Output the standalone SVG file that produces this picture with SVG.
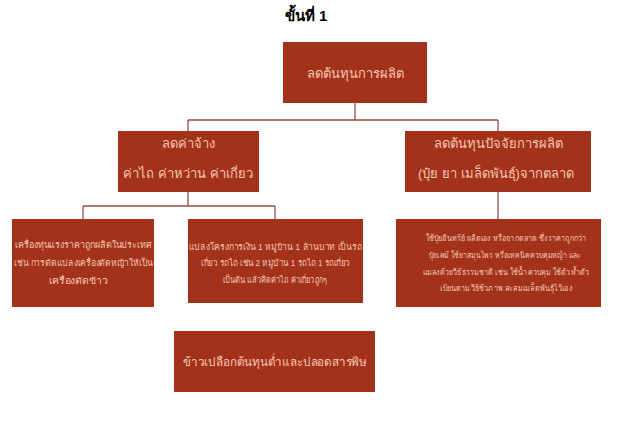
<svg xmlns="http://www.w3.org/2000/svg" width="620" height="428" viewBox="0 0 620 428">
<style>
.box{fill:#a3321a;}
.t{font-family:"Liberation Sans","Noto Sans",sans-serif;fill:#f5c6b2;text-anchor:middle;dominant-baseline:central;}
.l{font-size:13px;}
.s{font-size:9px;}
.xs{font-size:8.5px;}
.conn{fill:none;stroke:#8e4f46;stroke-width:1.3;}
</style>
<rect width="620" height="428" fill="#ffffff"/>
<text x="306" y="15" font-family="Liberation Sans,sans-serif" font-size="15" font-weight="bold" fill="#000" text-anchor="middle" dominant-baseline="central">ขั้นที่ 1</text>
<g id="connectors">
<path class="conn" d="M355 103V120M188 120H498M188 120V131M498 120V131"/>
<path class="conn" d="M188 192V206M83 206H275M83 206V219M275 206V219"/>
<path class="conn" d="M498 192V219"/>
</g>
<g id="n0">
<rect class="box" x="283" y="42" width="144" height="61"/>
<text class="t l" x="355" y="73">ลดต้นทุนการผลิต</text>
</g>
<g id="n1">
<rect class="box" x="118" y="131" width="141" height="61"/>
<text class="t l" x="188" y="143">ลดค่าจ้าง</text>
<text class="t l" x="188" y="173">ค่าไถ ค่าหว่าน ค่าเกี่ยว</text>
</g>
<g id="n2">
<rect class="box" x="405" y="131" width="186" height="61"/>
<text class="t l" x="498" y="143">ลดต้นทุนปัจจัยการผลิต</text>
<text class="t l" x="496" y="173">(ปุ๋ย ยา เมล็ดพันธุ์)จากตลาด</text>
</g>
<g id="n3">
<rect class="box" x="12" y="219" width="142" height="88"/>
<text class="t s" x="83.5" y="245" textLength="137" lengthAdjust="spacingAndGlyphs">เครื่องทุ่นแรงราคาถูกผลิตในประเทศ</text>
<text class="t s" x="83.5" y="263" textLength="139" lengthAdjust="spacingAndGlyphs">เช่น การดัดแปลงเครื่องตัดหญ้าให้เป็น</text>
<text class="t s" x="78" y="281" textLength="59" lengthAdjust="spacingAndGlyphs">เครื่องตัดข้าว</text>
</g>
<g id="n4">
<rect class="box" x="188" y="219" width="175" height="84"/>
<text class="t s" x="275" y="247" textLength="173" lengthAdjust="spacingAndGlyphs">แปลงโครงการเงิน 1 หมู่บ้าน 1 ล้านบาท เป็นรถ</text>
<text class="t s" x="275.5" y="263" textLength="149" lengthAdjust="spacingAndGlyphs">เกี่ยว รถไถ เช่น 2 หมู่บ้าน 1 รถไถ 1 รถเกี่ยว</text>
<text class="t s" x="275" y="280" textLength="104" lengthAdjust="spacingAndGlyphs">เป็นต้น แล้วคิดค่าไถ ค่าเกี่ยวถูกๆ</text>
</g>
<g id="n5">
<rect class="box" x="396" y="219" width="205" height="88"/>
<text class="t xs" x="506" y="238" textLength="161" lengthAdjust="spacingAndGlyphs">ใช้ปุ๋ยอินทรีย์ ผลิตเอง หรือจากตลาด ซึ่งราคาถูกกว่า</text>
<text class="t xs" x="505" y="255" textLength="152" lengthAdjust="spacingAndGlyphs">ปุ๋ยเคมี ใช้ยาสมุนไพร หรือเทคนิคควบคุมหญ้า และ</text>
<text class="t xs" x="506" y="272" textLength="166" lengthAdjust="spacingAndGlyphs">แมลงด้วยวิธีธรรมชาติ เช่น ใช้น้ำควบคุม ใช้ตัวห้ำตัว</text>
<text class="t xs" x="506" y="288" textLength="132" lengthAdjust="spacingAndGlyphs">เบียนตามวิธีชีวภาพ สะสมเมล็ดพันธุ์ไว้เอง</text>
</g>
<g id="n6">
<rect class="box" x="174" y="331" width="201" height="61"/>
<text class="t" x="275" y="362" font-size="12" textLength="184" lengthAdjust="spacingAndGlyphs">ข้าวเปลือกต้นทุนต่ำและปลอดสารพิษ</text>
</g>
</svg>
